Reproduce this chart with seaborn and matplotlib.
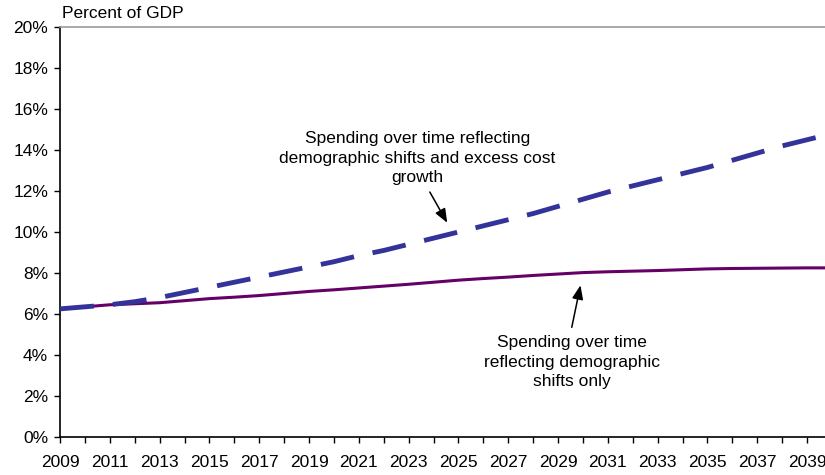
import matplotlib
matplotlib.use("Agg")
import matplotlib.pyplot as plt
import seaborn as sns
import pandas as pd

years = list(range(2009, 2041))

# Spending with demographic shifts plus excess cost growth (percent of GDP)
excess_cost = [6.25, 6.35, 6.45, 6.60, 6.80, 7.05, 7.30, 7.55, 7.80, 8.05,
               8.30, 8.55, 8.85, 9.10, 9.40, 9.70, 10.00, 10.30, 10.60, 10.90,
               11.25, 11.60, 11.95, 12.25, 12.55, 12.85, 13.15, 13.50, 13.85,
               14.20, 14.50, 14.80]

# Spending with demographic shifts only (percent of GDP)
demographic = [6.25, 6.35, 6.45, 6.50, 6.55, 6.65, 6.75, 6.82, 6.90, 7.00,
               7.10, 7.18, 7.27, 7.36, 7.45, 7.55, 7.65, 7.73, 7.80, 7.88,
               7.95, 8.02, 8.06, 8.09, 8.12, 8.16, 8.20, 8.22, 8.23, 8.24,
               8.25, 8.25]

y_ticks = list(range(0, 21, 2))
x_ticks = list(range(2009, 2041, 2))

df = pd.DataFrame({"year": years, "excess": excess_cost, "demo": demographic})

sns.set_theme(style="white")
plt.rcParams["font.family"] = ["Liberation Sans", "DejaVu Sans"]

fig = plt.figure(figsize=(8.25, 4.75), dpi=100)
ax = fig.add_axes([60 / 825, 1 - 437 / 475, (832 - 60) / 825, (437 - 27) / 475])

sns.lineplot(data=df, x="year", y="demo", ax=ax, color="#660066",
             linewidth=2.2, zorder=2)
sns.lineplot(data=df, x="year", y="excess", ax=ax, color="#333399",
             linewidth=3.5, zorder=3)
ax.lines[-1].set_dashes((7.0, 3.9))
ax.lines[-1].set_dash_capstyle("butt")

ax.set_xlim(2009, 2040)
ax.set_ylim(0, 20)
ax.set_xticks(years, minor=True)
ax.set_xticks(x_ticks)
ax.set_xticklabels([str(y) for y in x_ticks])
ax.set_yticks(y_ticks)
ax.set_yticklabels([f"{v}%" for v in y_ticks])
ax.set_xlabel("")
ax.set_ylabel("")

for side in ("left", "bottom"):
    ax.spines[side].set_color("black")
    ax.spines[side].set_linewidth(1.2)
ax.spines["top"].set_color("#999999")
ax.spines["top"].set_linewidth(1.2)
ax.spines["right"].set_visible(False)

ax.tick_params(axis="both", which="both", direction="out", color="black",
               width=1.0, labelsize=12.5, labelcolor="black")
ax.tick_params(axis="y", length=4.5, pad=4, left=True)
ax.tick_params(axis="x", which="major", length=4, pad=9, bottom=True)
ax.tick_params(axis="x", which="minor", length=4, bottom=True)

fig.text(62 / 825, 1 - 14 / 475, "Percent of GDP", fontsize=12.5,
         ha="left", va="center", color="black")

arrow_style = dict(arrowstyle="-|>,head_length=0.7,head_width=0.28",
                   color="black", lw=1.1, shrinkA=0, shrinkB=0)

ax.text(2023.35, 13.6,
        "Spending over time reflecting\ndemographic shifts and excess cost\ngrowth",
        ha="center", va="center", fontsize=12.5, linespacing=1.38, color="black")
ax.annotate("", xy=(2024.55, 10.45), xytext=(2023.85, 11.95),
            arrowprops=arrow_style)

ax.text(2029.55, 3.65,
        "Spending over time\nreflecting demographic\nshifts only",
        ha="center", va="center", fontsize=12.5, linespacing=1.38, color="black")
ax.annotate("", xy=(2029.9, 7.4), xytext=(2029.55, 5.35),
            arrowprops=arrow_style)

fig.savefig("out.png", dpi=100)
